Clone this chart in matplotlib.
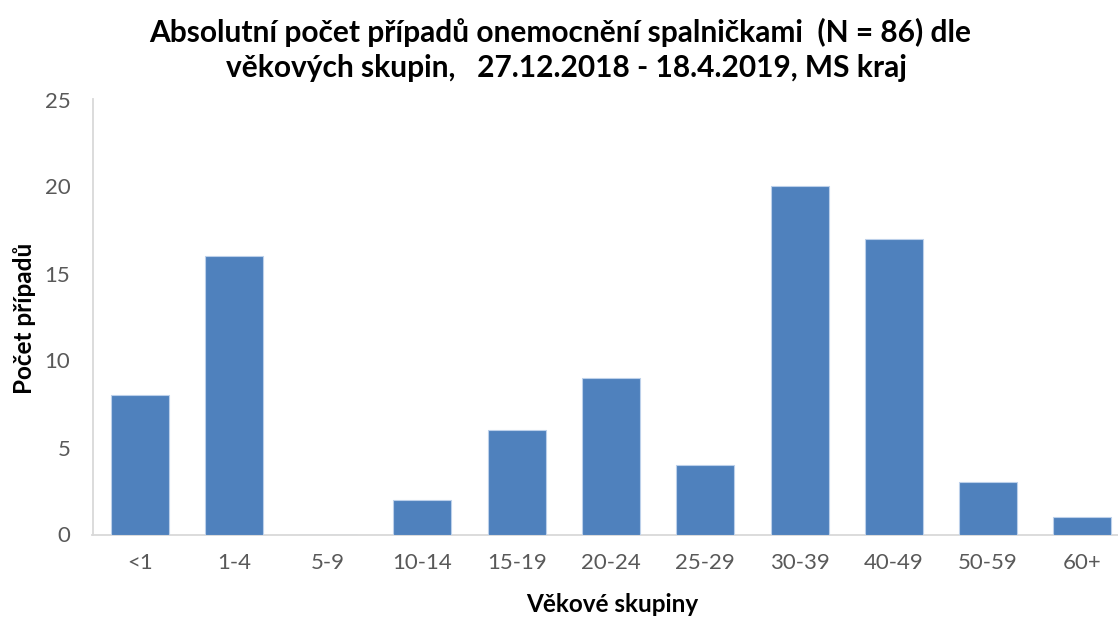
import matplotlib
matplotlib.use("Agg")
import matplotlib.pyplot as plt

categories = ["<1", "1-4", "5-9", "10-14", "15-19", "20-24", "25-29", "30-39", "40-49", "50-59", "60+"]
cases = [8, 16, 0, 2, 6, 9, 4, 20, 17, 3, 1]
yticks = [0, 5, 10, 15, 20, 25]

plt.rcParams['font.family'] = ['Lato', 'DejaVu Sans']

W, H = 1118, 617
fig = plt.figure(figsize=(W / 100, H / 100), dpi=100)
left, right = 92.5, 1129.5
bottom, top = 534.5, 99.5
ax = fig.add_axes([left / W, 1 - bottom / H, (right - left) / W, (bottom - top) / H])

x = list(range(len(categories)))
ax.bar(x, cases, width=0.615, color="#4F81BD", edgecolor="#BCD0EA", linewidth=0.8, zorder=3)
ax.set_xlim(-0.5, len(categories) - 0.5)
ax.set_ylim(0, 25)
ax.set_yticks(yticks)
ax.set_xticks(x)
ax.set_xticklabels(categories)

for s in ["top", "right"]:
    ax.spines[s].set_visible(False)
for s in ["left", "bottom"]:
    ax.spines[s].set_color("#D9D9D9")
    ax.spines[s].set_linewidth(1.3)
ax.tick_params(axis="both", length=0, labelsize=16, labelcolor="#595959")
ax.tick_params(axis="y", pad=16)
ax.tick_params(axis="x", pad=13)

fig.text(612 / W, 1 - 605 / H, "Věkové skupiny", fontsize=17.5, fontweight="bold",
         ha="center", va="center")
fig.text(25 / W, 1 - 318 / H, "Počet případů", rotation=90, fontsize=17.5,
         fontweight="bold", ha="center", va="center")
fig.text(560 / W, 1 - 32 / H, "Absolutní počet případů onemocnění spalničkami  (N = 86) dle",
         fontsize=21.5, fontweight="bold", ha="center", va="center")
fig.text(566 / W, 1 - 68 / H, "věkových skupin,   27.12.2018 - 18.4.2019, MS kraj",
         fontsize=21.5, fontweight="bold", ha="center", va="center")

fig.savefig("out.png", dpi=100)
